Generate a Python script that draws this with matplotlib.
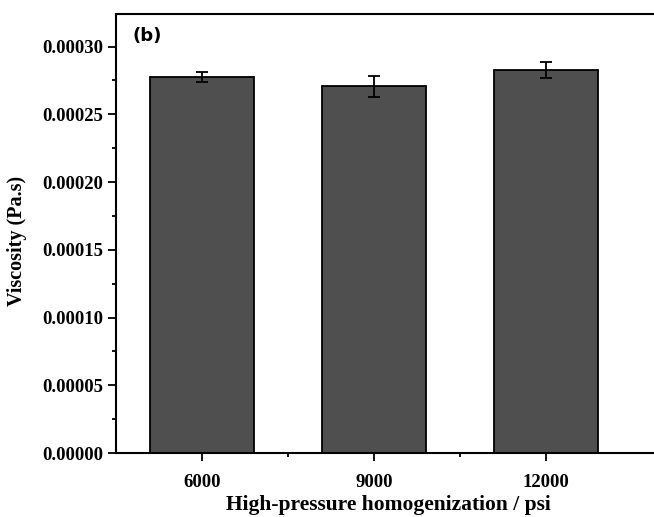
#!/usr/bin/env python3
import matplotlib
matplotlib.use("Agg")
import matplotlib.pyplot as plt
from matplotlib.ticker import MultipleLocator, FixedLocator, FormatStrFormatter

pressure = [6000, 9000, 12000]
viscosity = [0.0002775, 0.0002705, 0.000283]
err = [0.0000035, 0.0000074, 0.0000059]

plt.rcParams["font.family"] = ["Liberation Serif", "DejaVu Serif"]
plt.rcParams["font.weight"] = "bold"

fig = plt.figure(figsize=(6.54, 5.17), dpi=100)
ax = fig.add_axes([116 / 654, 64 / 517, (660 - 116) / 654, 439 / 517])

ax.bar(pressure, viscosity, width=1800, color="#4f4f4f", edgecolor="black",
       linewidth=1.3, zorder=2)
ax.errorbar(pressure, viscosity, yerr=err, fmt="none", ecolor="black",
            elinewidth=1.3, capsize=4, capthick=1.3, zorder=3)

ax.set_xlim(4500, 13990)
ax.set_ylim(0, 0.000324)
ax.set_xticks(pressure)
ax.xaxis.set_minor_locator(FixedLocator([7500, 10500]))
ax.yaxis.set_major_locator(MultipleLocator(0.00005))
ax.yaxis.set_minor_locator(MultipleLocator(0.000025))
ax.yaxis.set_major_formatter(FormatStrFormatter("%.5f"))

ax.tick_params(which="major", direction="out", length=6, width=1.3,
               labelsize=13.5)
ax.tick_params(axis="x", which="major", pad=9)
ax.tick_params(which="minor", direction="out", length=3, width=1.3)
ax.tick_params(axis="y", right=False)
for s in ax.spines.values():
    s.set_linewidth(1.5)

ax.set_xlabel("High-pressure homogenization / psi", fontsize=15.5,
              fontweight="bold", labelpad=3)
ax.set_ylabel("Viscosity (Pa.s)", fontsize=14.5, fontweight="bold")
ax.yaxis.set_label_coords(-0.163, 0.483)
ax.text(0.03, 0.97, "(b)", transform=ax.transAxes, fontsize=13,
        fontweight="bold", family="DejaVu Sans", va="top", ha="left")

fig.savefig("out.png", dpi=100)
